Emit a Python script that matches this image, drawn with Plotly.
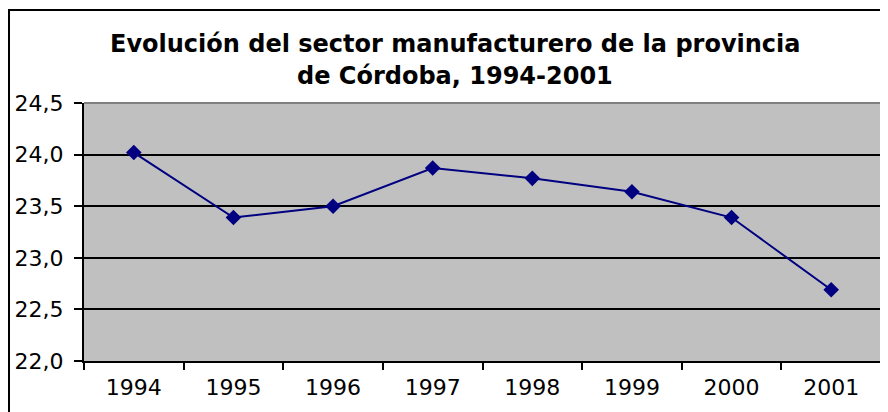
import plotly.graph_objects as go

years = ["1994", "1995", "1996", "1997", "1998", "1999", "2000", "2001"]
values = [24.02, 23.39, 23.50, 23.87, 23.77, 23.64, 23.39, 22.69]
y_ticks = [22.0, 22.5, 23.0, 23.5, 24.0, 24.5]
title_lines = ["Evolución del sector manufacturero de la provincia", "de Córdoba, 1994-2001"]

# page has an 8px body margin; work in page coordinates and subtract it
OFF = 8
W, H = 888 - OFF, 412 - OFF
L, R, T, B = 84 - OFF, 881 - OFF, 103 - OFF, 361 - OFF
pw, ph = R - L, B - T

fig = go.Figure()
fig.add_trace(go.Scatter(
    x=years, y=values, mode="lines+markers",
    line=dict(color="#000080", width=2),
    marker=dict(symbol="diamond", size=12, color="#000080"),
    hoverinfo="x+y",
))

font_family = "DejaVu Sans, Liberation Sans, Arial, sans-serif"

fig.update_layout(
    width=W, height=H,
    margin=dict(l=L, r=W - R, t=T, b=H - B, pad=0, autoexpand=False),
    paper_bgcolor="white",
    plot_bgcolor="#C0C0C0",
    separators=",.",
    showlegend=False,
    font=dict(family=font_family, color="black", size=22),
    xaxis=dict(
        type="category", range=[-0.5, 7.5], tickson="boundaries",
        ticks="outside", ticklen=7, tickwidth=2, tickcolor="black",
        showline=True, linecolor="black", linewidth=2,
        showgrid=False, zeroline=False, fixedrange=True, automargin=False,
        tickfont=dict(size=22), ticklabelstandoff=6,
    ),
    yaxis=dict(
        range=[22.0, 24.5], tickvals=y_ticks, tickformat=".1f",
        ticks="outside", ticklen=8, tickwidth=2, tickcolor="black",
        showline=True, linecolor="black", linewidth=2,
        showgrid=True, gridcolor="black", gridwidth=2,
        zeroline=False, fixedrange=True, automargin=False,
        tickfont=dict(size=22), ticklabelstandoff=6,
    ),
)

# plot-area top & right border (gray)
fig.add_shape(type="line", xref="paper", yref="paper", x0=0, x1=1, y0=1, y1=1,
              line=dict(color="#808080", width=2), layer="above")
fig.add_shape(type="line", xref="paper", yref="paper", x0=1, x1=1, y0=0, y1=1,
              line=dict(color="#808080", width=2), layer="above")

# chart-area outer border (page x=8, y=10)
bx = (8 - OFF + 1 - L) / pw
by = (B - (10 - OFF)) / ph
fig.add_shape(type="rect", xref="paper", yref="paper", x0=bx, x1=1.2, y0=-0.5, y1=by,
              line=dict(color="black", width=2), layer="below")

cx = (455 - OFF - L) / pw
for i, (txt, yc) in enumerate(zip(title_lines, [44, 76])):
    fig.add_annotation(text="<b>%s</b>" % txt, xref="paper", yref="paper",
                       x=cx, y=(B - (yc - OFF)) / ph, xanchor="center", yanchor="middle",
                       showarrow=False, font=dict(size=24, family=font_family, color="black"))

fig.write_html("out.html")
